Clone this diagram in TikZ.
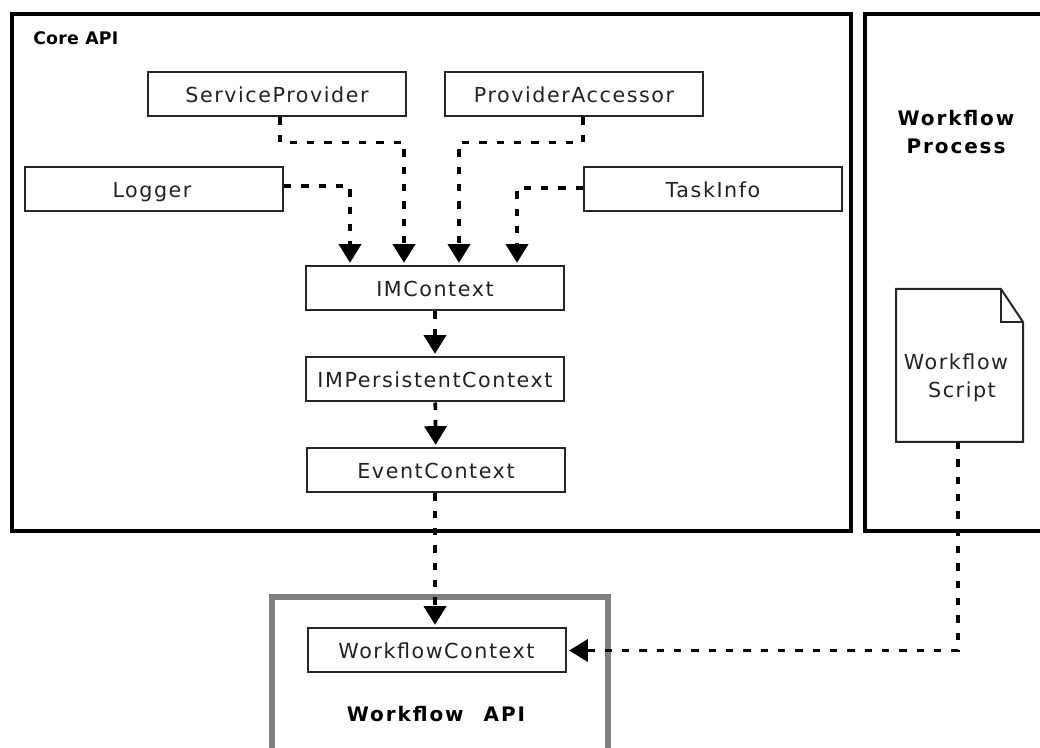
\documentclass[tikz,border=0pt]{standalone}
\usepackage{fontspec}
\usetikzlibrary{arrows.meta}
\setmainfont{DejaVu Sans}
\newfontfamily\reg[LetterSpace=7.5]{DejaVu Sans}
\newfontfamily\bld[LetterSpace=1.5]{DejaVu Sans Bold}
\newfontfamily\bldw[LetterSpace=9.5]{DejaVu Sans Bold}
\definecolor{tx}{HTML}{222222}
\def\px{0.75pt}
\tikzset{
 x=0.75pt,y=-0.75pt,
 frame/.style={draw=black,line width=3pt,fill=white},
 gframe/.style={draw=black!50,line width=4pt,fill=white},
 cbox/.style={draw=black!85,line width=1.5pt,fill=white,minimum width=193.5pt,minimum height=33pt,inner sep=0pt,text=tx,text height=14pt,text depth=1.5pt,font=\reg\fontsize{15.5}{17}\selectfont},
 heading/.style={font=\bld\fontsize{13}{21}\selectfont,text=black,align=center,inner sep=0pt},
 wheading/.style={font=\bldw\fontsize{15}{21}\selectfont,text=black,align=center,inner sep=0pt},
 conn/.style={draw=black,line width=2.7pt,dash pattern=on 5.5pt off 7.5pt},
 arr/.style={conn,-{Triangle[length=14pt,width=16.5pt]},shorten >=2pt},
}
\begin{document}
\begin{tikzpicture}
\useasboundingbox (0,0) rectangle (1040,748);
\begin{scope}
\clip (0,0) rectangle (1040,748);
\draw[frame] (12,14) rectangle (851,531);
\draw[frame] (865,14) rectangle (1060,531);
\draw[gframe] (272,597) rectangle (608,770);
\end{scope}
\node[heading,anchor=west] (core) at (33,38) {Core API};
\node[wheading] (wp) at (956,132) {Workflow\\Process};
\node[wheading] (wa) at (436,714) {Workflow\hspace{15pt}API};

\node[cbox] (sp) at (277,94.5) {ServiceProvider};
\node[cbox] (pa) at (574,94.5) {ProviderAccessor};
\node[cbox] (lg) at (154,189) {\hspace*{-3pt}Logger};
\node[cbox] (ti) at (713,189) {TaskInfo};
\node[cbox] (im) at (435,288.5) {IMContext};
\node[cbox] (ip) at (435,379.5) {IMPersistentContext};
\node[cbox] (ev) at (436,470.5) {EventContext};
\node[cbox] (wc) at (436.5,650.5) {WorkflowContext};

\draw[draw=black!85,line width=1.5pt,fill=white] (896,289) -- (1001,289) -- (1023,322) -- (1023,442) -- (896,442) -- cycle;
\draw[draw=black!85,line width=1.5pt] (1001,289) -- (1001,322) -- (1023,322);
\node[font=\reg\fontsize{15.5}{21}\selectfont,text=tx,align=center,inner sep=0pt] (sc) at (956,378) {Workflow\\\hspace*{9pt}Script};
\coordinate (scb) at (958,442);

\draw[arr] ([xshift=3*\px]sp.south) -- ++(0,25) -| ([xshift=-31*\px]im.north);
\draw[arr] ([xshift=9*\px]pa.south) -- ++(0,25) -| ([xshift=24*\px]im.north);
\draw[arr] ([yshift=3*\px]lg.east) -- ++(66,0) -- ([xshift=-85*\px]im.north);
\draw[arr] ([yshift=1*\px]ti.west) -- ++(-66,0) -- ([xshift=82*\px]im.north);
\draw[arr] (im) -- (ip);
\draw[arr] (ip) -- (ev);
\draw[arr] ([xshift=-1*\px]ev.south) -- ([xshift=-1.5*\px]wc.north);
\draw[arr] (scb) |- (wc.east);
\end{tikzpicture}
\end{document}
